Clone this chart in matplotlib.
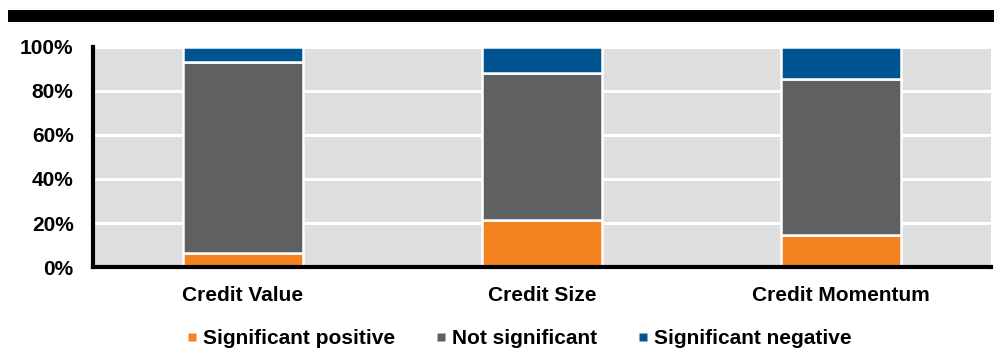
import matplotlib.pyplot as plt
from matplotlib.patches import Rectangle
from matplotlib.lines import Line2D
import numpy as np

plt.rcParams['font.family'] = ['Liberation Sans', 'DejaVu Sans']
plt.rcParams['font.weight'] = 'bold'

categories = ['Credit Value', 'Credit Size', 'Credit Momentum']
sig_pos = [6.5, 21.5, 14.5]
not_sig = [86.5, 66.5, 71.0]
sig_neg = [7.0, 12.0, 14.5]
series = ['Significant positive', 'Not significant', 'Significant negative']
colors = ['#F58220', '#5F6062', '#00548F']

fig = plt.figure(figsize=(9.95, 3.5), dpi=100)
ax = fig.add_axes([0.0935, 0.237, 0.9025, 0.629])
ax.set_facecolor('#DEDEDE')

# black bar across the top
fig.patches.append(Rectangle((0.008, 0.937), 0.992, 0.034, transform=fig.transFigure,
                             facecolor='black', edgecolor='none'))

x = np.arange(len(categories))
bottom = np.zeros(len(categories))
for vals, col in zip([sig_pos, not_sig, sig_neg], colors):
    ax.bar(x, vals, width=0.40, bottom=bottom, color=col, edgecolor='white',
           linewidth=1.8, zorder=3)
    bottom += np.array(vals)

ax.set_xlim(-0.5, 2.5)
ax.set_ylim(0, 100)
ax.set_yticks(range(0, 101, 20))
ax.set_yticklabels([f'{v}%' for v in range(0, 101, 20)], fontsize=15, fontweight='bold')
ax.set_xticks(x)
ax.set_xticklabels(categories, fontsize=15, fontweight='bold')
ax.tick_params(length=0)
ax.tick_params(axis='x', pad=14)
ax.tick_params(axis='y', pad=14)
ax.yaxis.grid(True, color='white', linewidth=2.2, zorder=1)
ax.set_axisbelow(True)

for s in ['top', 'right']:
    ax.spines[s].set_visible(False)
for s in ['left', 'bottom']:
    ax.spines[s].set_linewidth(3)
    ax.spines[s].set_color('black')
    ax.spines[s].set_zorder(5)

handles = [Line2D([], [], marker='s', linestyle='none', markersize=5.8,
                  markerfacecolor=c, markeredgecolor='none') for c in colors]
fig.legend(handles, series, loc='center', ncol=3, frameon=False,
           bbox_to_anchor=(0.521, 0.033), prop={'size': 15, 'weight': 'bold'},
           handletextpad=0.23, columnspacing=1.9, handlelength=0.6,
           borderpad=0, borderaxespad=0)

fig.savefig('out.png', dpi=100)
